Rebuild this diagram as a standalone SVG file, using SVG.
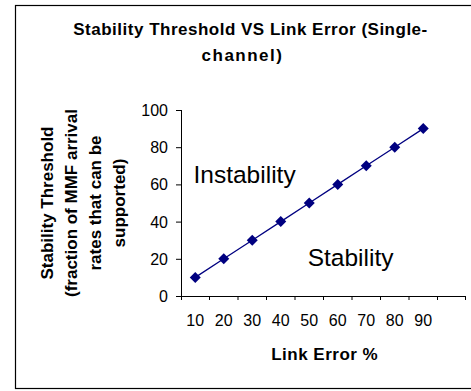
<svg xmlns="http://www.w3.org/2000/svg" width="471" height="391" viewBox="0 0 471 391">
  <style>
    .frame { fill: #ffffff; stroke: #000000; stroke-width: 1.2; }
    .axis { stroke: #000000; stroke-width: 1; fill: none; }
    .title { font-family: "Liberation Sans", Arial, sans-serif; font-weight: bold; font-size: 17px; fill: #000000; }
    .tick { font-family: "Liberation Sans", Arial, sans-serif; font-size: 16px; fill: #000000; }
    .region { font-family: "Liberation Sans", Arial, sans-serif; font-size: 24.5px; fill: #000000; }
    .series { stroke: #000080; stroke-width: 1.3; fill: none; }
    .marker { fill: #000080; }
  </style>
  <defs>
    <path id="diamond" d="M0,-5.5 L5.5,0 L0,5.5 L-5.5,0 Z"/>
  </defs>

  <rect class="frame" x="15.5" y="5.5" width="470" height="383"/>

  <!-- chart title -->
  <g id="title">
    <text class="title" x="250.5" y="35" text-anchor="middle" letter-spacing="0.5">Stability Threshold VS Link Error (Single-</text>
    <text class="title" x="242.5" y="60.5" text-anchor="middle" letter-spacing="1.5">channel)</text>
  </g>

  <!-- axes -->
  <g id="axes">
    <path class="axis" d="M181.5,110 V300 M181,296.5 H466"/>
    <path class="axis" d="M176,110.5 H181 M176,147.7 H181 M176,184.9 H181 M176,222.1 H181 M176,259.3 H181 M176,296.5 H181"/>
    <path class="axis" d="M209.5,296 V300 M238,296 V300 M266.5,296 V300 M295,296 V300 M323.5,296 V300 M352,296 V300 M380.5,296 V300 M409,296 V300 M437.5,296 V300 M465.5,296 V300"/>
  </g>

  <!-- y tick labels -->
  <g id="y-labels" class="tick" text-anchor="end">
    <text x="168" y="116">100</text>
    <text x="168" y="153.2">80</text>
    <text x="168" y="190.4">60</text>
    <text x="168" y="227.6">40</text>
    <text x="168" y="264.8">20</text>
    <text x="168" y="302">0</text>
  </g>

  <!-- x tick labels -->
  <g id="x-labels" class="tick" text-anchor="middle">
    <text x="195.25" y="325.5">10</text>
    <text x="223.75" y="325.5">20</text>
    <text x="252.25" y="325.5">30</text>
    <text x="280.75" y="325.5">40</text>
    <text x="309.25" y="325.5">50</text>
    <text x="337.75" y="325.5">60</text>
    <text x="366.25" y="325.5">70</text>
    <text x="394.75" y="325.5">80</text>
    <text x="423.25" y="325.5">90</text>
  </g>

  <!-- axis titles -->
  <g id="x-title">
    <text class="title" x="324.7" y="360" text-anchor="middle" letter-spacing="0.5">Link Error %</text>
  </g>
  <g id="y-title" class="title" text-anchor="middle">
    <text transform="translate(53,203) rotate(-90)">Stability Threshold</text>
    <text transform="translate(77,203) rotate(-90)">(fraction of MMF arrival</text>
    <text transform="translate(101,203) rotate(-90)">rates that can be</text>
    <text transform="translate(125,203) rotate(-90)">supported)</text>
  </g>

  <!-- region labels -->
  <g id="label-instability">
    <text class="region" x="193.5" y="182.7">Instability</text>
  </g>
  <g id="label-stability">
    <text class="region" x="307.7" y="265.7">Stability</text>
  </g>

  <!-- data series -->
  <g id="series">
    <polyline class="series" points="195.25,277.4 223.75,258.8 252.25,240.2 280.75,221.6 309.25,203 337.75,184.4 366.25,165.8 394.75,147.2 423.25,128.6"/>
    <g class="marker">
      <use href="#diamond" x="195.25" y="277.4"/>
      <use href="#diamond" x="223.75" y="258.8"/>
      <use href="#diamond" x="252.25" y="240.2"/>
      <use href="#diamond" x="280.75" y="221.6"/>
      <use href="#diamond" x="309.25" y="203"/>
      <use href="#diamond" x="337.75" y="184.4"/>
      <use href="#diamond" x="366.25" y="165.8"/>
      <use href="#diamond" x="394.75" y="147.2"/>
      <use href="#diamond" x="423.25" y="128.6"/>
    </g>
  </g>
</svg>
